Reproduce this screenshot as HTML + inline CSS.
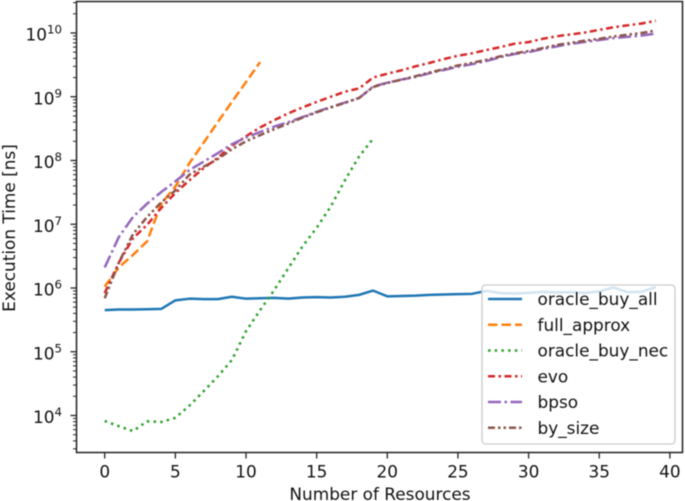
<!DOCTYPE html>
<html>
<head>
<meta charset="utf-8">
<style>
html,body{margin:0;padding:0;background:#fff;width:685px;height:501px;overflow:hidden}
svg{display:block;filter:blur(0.4px)}
text{font-family:"DejaVu Sans","Liberation Sans",sans-serif;font-size:16.9px;fill:#111}
</style>
</head>
<body>
<svg id="chart" width="685" height="501" viewBox="0 0 685 501" xmlns="http://www.w3.org/2000/svg">
<g id="ticks"></g>
<g id="lines"></g>
<rect x="76.5" y="1.5" width="606" height="451" fill="none" stroke="#222" stroke-width="1.5"/>
<text x="380" y="500" text-anchor="middle">Number of Resources</text>
<text transform="translate(15,228) rotate(-90)" text-anchor="middle">Execution Time [ns]</text>
<rect x="482" y="285" width="193" height="159" rx="3.5" fill="#fff" fill-opacity="0.8" stroke="#ccc" stroke-width="1.3"/>
<g id="legend"></g>
</svg>
<script>
const resources = [0,1,2,3,4,5,6,7,8,9,10,11,12,13,14,15,16,17,18,19,20,21,22,23,24,25,26,27,28,29,30,31,32,33,34,35,36,37,38,39];
const oracleBuyAll = [4.5e5,4.6e5,4.6e5,4.65e5,4.7e5,6.4e5,6.8e5,6.7e5,6.7e5,7.3e5,6.8e5,6.9e5,7.0e5,6.8e5,7.1e5,7.2e5,7.1e5,7.3e5,7.8e5,9.1e5,7.4e5,7.5e5,7.6e5,7.8e5,7.9e5,8.0e5,8.1e5,9.0e5,8.3e5,8.2e5,8.4e5,8.7e5,8.5e5,8.6e5,8.4e5,8.8e5,1.02e6,8.6e5,8.7e5,1.03e6];
const fullApprox = [1.05e6,2.1e6,3.3e6,5.4e6,2.1e7,3.9e7,9.1e7,1.9e8,4.0e8,8.3e8,1.7e9,3.5e9];
const oracleBuyNec = [8.2e3,6.8e3,5.7e3,8.1e3,7.9e3,9.2e3,1.43e4,2.4e4,4.1e4,7.4e4,2.1e5,4.5e5,9.3e5,2.05e6,4.5e6,8.8e6,1.9e7,4.9e7,1.15e8,2.2e8];
const evo = [8.3e5,2.5e6,6.0e6,9.8e6,1.8e7,3.1e7,4.9e7,7.6e7,1.1e8,1.7e8,2.4e8,3.3e8,4.3e8,5.5e8,6.8e8,8.3e8,1.0e9,1.2e9,1.35e9,2.0e9,2.3e9,2.6e9,3.0e9,3.4e9,3.9e9,4.4e9,4.8e9,5.4e9,6.0e9,6.8e9,7.2e9,8.1e9,8.9e9,9.5e9,1.02e10,1.12e10,1.23e10,1.32e10,1.41e10,1.55e10];
const bpso = [2.1e6,6.3e6,1.3e7,2.1e7,3.2e7,4.7e7,7.1e7,9.6e7,1.3e8,1.8e8,2.3e8,2.8e8,3.4e8,4.0e8,4.8e8,5.8e8,6.9e8,8.1e8,9.5e8,1.45e9,1.66e9,1.86e9,2.04e9,2.34e9,2.63e9,2.95e9,3.24e9,3.63e9,4.17e9,4.68e9,5.0e9,5.62e9,6.17e9,6.76e9,7.24e9,7.76e9,8.32e9,8.71e9,9.12e9,9.8e9];
const bySize = [6.9e5,2.5e6,7.0e6,1.3e7,2.2e7,3.4e7,6.0e7,8.0e7,1.05e8,1.5e8,2.0e8,2.5e8,3.1e8,3.8e8,4.7e8,5.7e8,6.8e8,8.0e8,9.6e8,1.42e9,1.65e9,1.85e9,2.1e9,2.4e9,2.7e9,3.1e9,3.4e9,3.8e9,4.3e9,4.8e9,5.2e9,5.8e9,6.5e9,7.0e9,7.6e9,8.1e9,8.8e9,9.4e9,1.0e10,1.1e10];
const seriesNames = ["oracle_buy_all","full_approx","oracle_buy_nec","evo","bpso","by_size"];
const xTickLabels = [0,5,10,15,20,25,30,35,40];
const yTickExponents = [4,5,6,7,8,9,10];

const NS = "http://www.w3.org/2000/svg";
const seriesValues = [oracleBuyAll, fullApprox, oracleBuyNec, evo, bpso, bySize];
const seriesColors = ["#1f77b4","#ff7f0e","#2ca02c","#d62728","#9467bd","#8c564b"];
const seriesDashes = ["", "9.5,4", "2.5,4.2", "7,3.5,2.5,3.5", "13,3.5,2.5,3.5", "7,3,2.5,3,2.5,3"];
const xScale = v => 104.7 + v * 14.13;
const yScale = v => 33 + (10 - Math.log10(v)) * 63.75;
const yTop = 1.5, yBottom = 452.5, xLeft = 76.5;
function make(tag, attrs, parent) {
  const el = document.createElementNS(NS, tag);
  for (const k in attrs) el.setAttribute(k, attrs[k]);
  parent.appendChild(el);
  return el;
}
const tickLayer = document.getElementById("ticks");
const lineLayer = document.getElementById("lines");
const legendLayer = document.getElementById("legend");

xTickLabels.forEach(v => {
  const x = xScale(v);
  const t = make("line", {x1:x, x2:x, y1:yBottom, y2:yBottom + 6, stroke:"#222", "stroke-width":1.3}, tickLayer);
  
  
  const l = make("text", {x:x, y:477.5, "text-anchor":"middle"}, tickLayer);
  
  
  l.textContent = v;
});

for (let e = 3; e <= 10; e++) {
  for (let m = 1; m <= 9; m++) {
    const y = yScale(m * Math.pow(10, e));
    if (y < yTop || y > yBottom) continue;
    const major = m === 1;
    const t = make("line", {x1:xLeft - (major ? 6 : 3.5), x2:xLeft, y1:y, y2:y, stroke:"#222", "stroke-width":major ? 1.3 : 1}, tickLayer);
    
    
  }
}
yTickExponents.forEach(e => {
  const y = yScale(Math.pow(10, e));
  const l = make("text", {x:62, y:y + 7.5, "text-anchor":"end"}, tickLayer);
  
  
  const base = make("tspan", {}, l);
  base.textContent = "10";
  const sup = make("tspan", {dy:-7, style:"font-size:11.8px"}, l);
  sup.textContent = e;
});

seriesValues.forEach((vals, i) => {
  const pts = vals.map((v, k) => xScale(resources[k]).toFixed(2) + "," + yScale(v).toFixed(2)).join(" ");
  const p = make("polyline", {points:pts, fill:"none", stroke:seriesColors[i], "stroke-width":2.5, "stroke-linejoin":"round"}, lineLayer);
  if (seriesDashes[i]) p.setAttribute("stroke-dasharray", seriesDashes[i]);
  
  
});

seriesNames.forEach((name, i) => {
  const y = 299 + i * 25.75;
  const s = make("line", {x1:488, x2:522, y1:y, y2:y, stroke:seriesColors[i], "stroke-width":2.5}, legendLayer);
  if (seriesDashes[i]) s.setAttribute("stroke-dasharray", seriesDashes[i]);
  
  
  const t = make("text", {x:537.5, y:y + 6}, legendLayer);
  
  
  t.textContent = name;
});
</script>
</body>
</html>
